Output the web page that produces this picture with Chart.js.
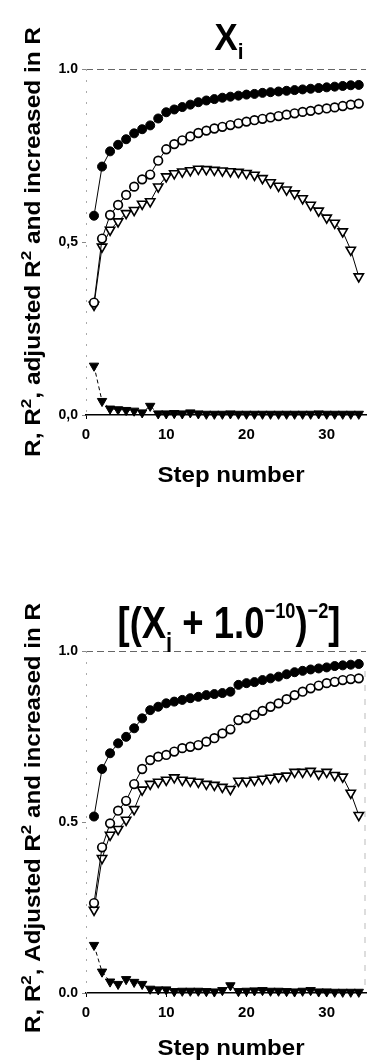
<!DOCTYPE html>
<html>
<head>
<meta charset="utf-8">
<script src="https://cdn.jsdelivr.net/npm/chart.js@4.4.0/dist/chart.umd.min.js"></script>
<style>
html, body { margin: 0; padding: 0; background: #fff; }
#wrap { position: relative; width: 373px; height: 1063px; overflow: hidden; }
.box { position: absolute; left: 0; width: 373px; }
</style>
</head>
<body>
<div id="wrap">
  <div class="box" style="top:0;height:520px"><canvas id="chartTop"></canvas></div>
  <div class="box" style="top:520px;height:543px"><canvas id="chartBottom"></canvas></div>
</div>
<script>
// step numbers on the x axis
var steps = [1, 2, 3, 4, 5, 6, 7, 8, 9, 10, 11, 12, 13, 14, 15, 16, 17, 18, 19, 20,
  21, 22, 23, 24, 25, 26, 27, 28, 29, 30, 31, 32, 33, 34];
var xTicks = [0, 10, 20, 30];
var yTicksTop = ['0,0', '0,5', '1.0'];
var yTicksBottom = ['0.0', '0.5', '1.0'];

// top panel: X_i
var topR = [0.576, 0.718, 0.762, 0.781, 0.797, 0.814, 0.826, 0.837, 0.857, 0.875, 0.883, 0.890, 0.897, 0.904, 0.909, 0.913, 0.917,
  0.920, 0.923, 0.926, 0.928, 0.931, 0.933, 0.935, 0.937, 0.939, 0.941, 0.943, 0.945, 0.947, 0.949, 0.951, 0.953, 0.954];
var topR2 = [0.325, 0.510, 0.578, 0.607, 0.636, 0.660, 0.681, 0.695, 0.735, 0.768, 0.783, 0.794, 0.805, 0.815, 0.822, 0.828, 0.833,
  0.838, 0.843, 0.848, 0.852, 0.856, 0.860, 0.864, 0.868, 0.872, 0.876, 0.879, 0.883, 0.886, 0.889, 0.893, 0.897, 0.900];
var topAdjR2 = [0.318, 0.486, 0.535, 0.559, 0.583, 0.592, 0.610, 0.617, 0.660, 0.689, 0.698, 0.703, 0.707, 0.711, 0.710, 0.708, 0.706,
  0.704, 0.702, 0.699, 0.694, 0.684, 0.672, 0.662, 0.651, 0.640, 0.626, 0.607, 0.590, 0.570, 0.555, 0.530, 0.477, 0.400];
var topIncR = [0.142, 0.040, 0.018, 0.016, 0.014, 0.012, 0.007, 0.026, 0.004, 0.004, 0.005, 0.004, 0.007, 0.004, 0.003, 0.003, 0.003,
  0.004, 0.003, 0.003, 0.003, 0.003, 0.003, 0.003, 0.003, 0.003, 0.003, 0.003, 0.004, 0.003, 0.003, 0.003, 0.003, 0.003];

// bottom panel: [(X_i + 1.0^-10)^-2]
var botR = [0.516, 0.655, 0.701, 0.730, 0.749, 0.774, 0.803, 0.827, 0.837, 0.847, 0.852, 0.857, 0.862, 0.866, 0.871, 0.874, 0.877,
  0.881, 0.901, 0.906, 0.909, 0.915, 0.920, 0.925, 0.932, 0.938, 0.942, 0.946, 0.949, 0.952, 0.956, 0.958, 0.960, 0.962];
var botR2 = [0.263, 0.426, 0.496, 0.533, 0.562, 0.611, 0.655, 0.681, 0.691, 0.696, 0.706, 0.716, 0.720, 0.725, 0.735, 0.745, 0.759,
  0.771, 0.798, 0.803, 0.813, 0.825, 0.837, 0.847, 0.859, 0.871, 0.881, 0.891, 0.899, 0.906, 0.910, 0.915, 0.918, 0.920];
var botAdjR2 = [0.243, 0.394, 0.462, 0.479, 0.506, 0.537, 0.594, 0.611, 0.617, 0.623, 0.630, 0.623, 0.620, 0.617, 0.611, 0.608, 0.602,
  0.596, 0.620, 0.620, 0.623, 0.626, 0.629, 0.632, 0.635, 0.646, 0.646, 0.649, 0.640, 0.646, 0.637, 0.632, 0.585, 0.520];
var botIncR = [0.140, 0.062, 0.033, 0.026, 0.040, 0.032, 0.026, 0.012, 0.010, 0.010, 0.005, 0.006, 0.006, 0.006, 0.005, 0.004, 0.008,
  0.022, 0.005, 0.006, 0.007, 0.008, 0.006, 0.006, 0.005, 0.004, 0.006, 0.008, 0.004, 0.004, 0.003, 0.003, 0.003, 0.003];

var FAM = '"Liberation Sans", Arial, Helvetica, sans-serif';

function pts(values) {
  return values.map(function (v, i) { return { x: steps[i], y: v }; });
}

function richWidth(ctx, segs, size) {
  var w = 0;
  segs.forEach(function (s) {
    ctx.font = 'bold ' + (size * (s.k || 1)) + 'px ' + FAM;
    w += ctx.measureText(s.t).width;
  });
  return w;
}

// draws text with sub/superscripts, squeezed to a target width
function drawRich(ctx, segs, x, y, size, targetW, rotate) {
  ctx.save();
  ctx.translate(x, y);
  if (rotate) ctx.rotate(-Math.PI / 2);
  var w = richWidth(ctx, segs, size);
  var sx = targetW ? targetW / w : 1;
  ctx.scale(sx, 1);
  var cx = -w / 2;
  ctx.fillStyle = '#000';
  ctx.textAlign = 'left';
  ctx.textBaseline = 'alphabetic';
  segs.forEach(function (s) {
    ctx.font = 'bold ' + (size * (s.k || 1)) + 'px ' + FAM;
    ctx.fillText(s.t, cx, (s.dy || 0) * size);
    cx += ctx.measureText(s.t).width;
  });
  ctx.restore();
}

function decorPlugin(L) {
  return {
    id: 'decor',
    beforeDatasetsDraw: function (chart) {
      var ctx = chart.ctx, a = chart.chartArea;
      ctx.save();
      ctx.lineWidth = 1;
      ctx.strokeStyle = '#666';
      ctx.setLineDash([7, 4]);
      ctx.beginPath();
      ctx.moveTo(a.left, a.top + 0.5);
      ctx.lineTo(a.right, a.top + 0.5);
      ctx.stroke();
      ctx.strokeStyle = '#aaa';
      ctx.setLineDash([2, 9]);
      ctx.beginPath();
      ctx.moveTo(a.left + 0.5, a.top);
      ctx.lineTo(a.left + 0.5, a.bottom);
      ctx.stroke();
      if (L.rightBorder) {
        ctx.strokeStyle = '#bbb';
        ctx.setLineDash([6, 8]);
        ctx.beginPath();
        ctx.moveTo(a.right - 1, a.top + 20);
        ctx.lineTo(a.right - 1, a.bottom);
        ctx.stroke();
      }
      ctx.restore();
    },
    afterDraw: function (chart) {
      var ctx = chart.ctx;
      drawRich(ctx, L.title, 229, L.titleY, L.titleSize, L.titleW, false);
      drawRich(ctx, L.yTitle, 40, L.yTitleY, 22, 430, true);
      drawRich(ctx, [{ t: 'Step number' }], 231, L.xTitleY, 22, 147, false);
    }
  };
}

function buildChart(id, s, L) {
  var line = { borderColor: '#000', borderWidth: 1, pointBorderColor: '#000', clip: false, tension: 0 };
  return new Chart(document.getElementById(id), {
    type: 'line',
    data: {
      datasets: [
        Object.assign({ data: pts(s.r), pointRadius: 4.5, pointBackgroundColor: '#000', pointBorderWidth: 1 }, line),
        Object.assign({ data: pts(s.r2), pointRadius: 4.3, pointBackgroundColor: '#fff', pointBorderWidth: 1.7 }, line),
        Object.assign({ data: pts(s.adj), pointStyle: 'triangle', pointRotation: 180, pointRadius: 5.4,
          pointBackgroundColor: '#fff', pointBorderWidth: 1.6 }, line),
        Object.assign({ data: pts(s.inc), pointStyle: 'triangle', pointRotation: 180, pointRadius: 5.4,
          pointBackgroundColor: '#000', pointBorderWidth: 1, borderDash: [4, 3] }, line)
      ]
    },
    options: {
      responsive: true,
      maintainAspectRatio: false,
      animation: false,
      layout: { padding: { top: L.top, left: 0, right: 0, bottom: 0 } },
      plugins: { legend: { display: false }, tooltip: { enabled: false }, title: { display: false } },
      scales: {
        x: {
          type: 'linear', min: 0, max: 34.9,
          afterFit: function (sc) { sc.height = L.xh; },
          ticks: {
            stepSize: 10, includeBounds: false, maxRotation: 0, padding: 7, color: '#000',
            font: { family: FAM, size: 15, weight: 'bold' },
            callback: function (v) { return xTicks.indexOf(v) >= 0 ? String(v) : ''; }
          },
          grid: { drawOnChartArea: false, drawTicks: true, tickLength: 4, color: '#000' },
          border: { color: '#000', width: 1.5 }
        },
        y: {
          min: 0, max: 1,
          afterFit: function (sc) { sc.width = 86; },
          ticks: {
            stepSize: 0.5, padding: 4, color: '#000',
            font: { family: FAM, size: 14, weight: 'bold' },
            callback: function (v) { return L.yLabels[Math.round(v * 2)]; }
          },
          grid: { drawOnChartArea: false, drawTicks: true, tickLength: 4, color: '#888' },
          border: { display: false }
        }
      }
    },
    plugins: [decorPlugin(L)]
  });
}

buildChart('chartTop', { r: topR, r2: topR2, adj: topAdjR2, inc: topIncR }, {
  top: 69, xh: 105, yLabels: yTicksTop,
  title: [{ t: 'X' }, { t: 'i', k: 0.6, dy: 0.25 }],
  titleY: 50, titleSize: 36, titleW: 29,
  yTitle: [{ t: 'R, R' }, { t: '2', k: 0.7, dy: -0.42 }, { t: ', adjusted R' }, { t: '2', k: 0.7, dy: -0.42 }, { t: ' and increased in R' }],
  yTitleY: 242, xTitleY: 482, rightBorder: false
});

buildChart('chartBottom', { r: botR, r2: botR2, adj: botAdjR2, inc: botIncR }, {
  top: 131, xh: 70, yLabels: yTicksBottom,
  title: [{ t: '[(X' }, { t: 'i', k: 0.6, dy: 0.3 }, { t: ' + 1.0' }, { t: '\u221210', k: 0.5, dy: -0.45 },
    { t: ')' }, { t: '\u22122', k: 0.5, dy: -0.45 }, { t: ']' }],
  titleY: 118, titleSize: 45, titleW: 223,
  yTitle: [{ t: 'R, R' }, { t: '2', k: 0.7, dy: -0.42 }, { t: ', Adjusted R' }, { t: '2', k: 0.7, dy: -0.42 }, { t: ' and increased in R' }],
  yTitleY: 298, xTitleY: 535, rightBorder: true
});
</script>
</body>
</html>
